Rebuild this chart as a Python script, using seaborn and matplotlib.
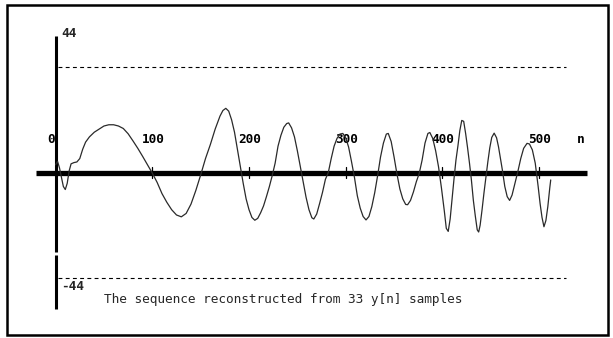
import matplotlib
matplotlib.use("Agg")
import matplotlib.pyplot as plt
from matplotlib.patches import Rectangle
import seaborn as sns
import pandas as pd

# ---- data ----
n_values = [0, 2, 4, 6, 8, 10, 12, 14, 16, 19, 22, 25, 28, 31, 35, 40, 45, 50, 55, 60,
            65, 70, 75, 80, 85, 90, 95, 100, 105, 110, 115, 120, 125, 130, 135, 140, 145,
            150, 155, 160, 165, 170, 173, 176, 179, 182, 185, 188, 191, 194, 197, 200, 203,
            206, 209, 212, 215, 218, 221, 224, 227, 230, 233, 236, 239, 241, 244, 247, 250,
            253, 256, 259, 262, 265, 267, 270, 273, 276, 279, 282, 285, 288, 291, 294, 297,
            300, 303, 306, 309, 312, 315, 318, 321, 324, 327, 330, 333, 336, 339, 342, 344,
            347, 350, 353, 356, 359, 362, 364, 367, 370, 373, 376, 379, 382, 385, 387, 390,
            393, 396, 399, 402, 404, 406, 408, 410, 412, 414, 416, 418, 420, 422, 424, 426,
            428, 430, 432, 434, 436, 437.5, 439, 441, 443, 445, 447, 449, 451, 453.5, 456,
            458, 460, 462, 464.5, 467, 469.5, 472, 475, 478, 481, 484, 487.5, 490, 493, 496,
            499, 501, 503, 505, 507, 509, 511, 512]
y_values = [2.5, 3.6, 1.5, -1.5, -4.5, -5.5, -3.5, 0.5, 2.8, 3.2, 3.4, 4.5, 7.5, 9.8, 11.5,
            13.0, 14.0, 15.0, 15.4, 15.4, 15.0, 14.2, 12.5, 10.2, 7.8, 5.2, 2.5, -0.2, -3.2,
            -6.8, -9.6, -12.0, -13.7, -14.3, -13.2, -10.2, -5.8, -0.8, 4.5, 9.0, 14.0, 18.2,
            20.0, 20.7, 19.8, 17.0, 13.0, 7.5, 2.0, -3.5, -8.5, -12.0, -14.5, -15.4, -14.8,
            -13.0, -10.8, -7.8, -4.6, -1.0, 3.0, 8.5, 12.0, 14.6, 15.8, 16.0, 14.4, 11.5, 7.0,
            2.0, -3.0, -8.0, -12.0, -14.6, -15.0, -13.4, -10.0, -6.4, -2.2, 0.0, 4.5, 8.5,
            11.0, 12.4, 12.6, 11.2, 8.2, 3.5, -1.5, -7.5, -11.5, -14.2, -15.3, -14.2, -11.0,
            -6.5, -1.0, 5.0, 9.5, 12.4, 12.6, 10.0, 5.0, -0.5, -5.3, -8.5, -10.3, -10.4, -9.0,
            -6.3, -3.0, -0.3, 4.0, 9.5, 12.6, 12.9, 11.0, 7.0, 1.8, -5.0, -12.5, -18.0, -19.0,
            -15.0, -8.5, -2.0, 4.0, 8.5, 13.5, 16.8, 16.5, 12.6, 8.0, 3.0, -2.5, -9.0, -14.0,
            -18.5, -19.2, -17.0, -12.0, -6.5, -1.5, 3.5, 8.0, 11.3, 12.7, 11.2, 8.3, 4.5, 0.8,
            -4.5, -7.8, -9.0, -7.3, -3.5, 0.3, 4.5, 7.8, 9.4, 9.2, 7.3, 3.0, -4.5, -10.0,
            -14.5, -17.5, -15.5, -11.0, -5.0, -2.4]
tick_positions = [100, 200, 300, 400, 500]
tick_labels = ["100", "200", "300", "400", "500"]
y_max_label = "44"
y_min_label = "-44"
y_axis_limit = 44
dash_level = 34
caption = "The sequence reconstructed from 33 y[n] samples"

sns.set_style("white")
plt.rcParams['font.family'] = ['DejaVu Sans Mono', 'DejaVu Sans']

fig = plt.figure(figsize=(6.13, 3.38), dpi=100)
ax = fig.add_axes([0, 0, 1, 1])
ax.set_axis_off()
ax.set_xlim(-57.5, 576.4)
ax.set_ylim(-53.39, 55.65)

df = pd.DataFrame({"n": n_values, "y": y_values})

# dashed guide lines
ax.plot([2, 528], [dash_level, dash_level], color="black", lw=0.8,
        linestyle=(0, (3.5, 3.0)))
ax.plot([2, 528], [-dash_level, -dash_level], color="black", lw=0.8,
        linestyle=(0, (3.5, 3.0)))

# axes lines
ax.plot([-20, 550], [0, 0], color="black", lw=3.8, solid_capstyle="butt", zorder=3)
ax.plot([0, 0], [-25.6, y_axis_limit], color="black", lw=2.2, solid_capstyle="butt", zorder=3)
ax.plot([0, 0], [-44, -26.6], color="black", lw=2.2, solid_capstyle="butt", zorder=3)
for t in tick_positions:
    ax.plot([t, t], [-1.9, 1.9], color="black", lw=0.9, zorder=3)

# the signal
sns.lineplot(data=df, x="n", y="y", ax=ax, color="#2a2a2a", linewidth=0.9,
             estimator=None, zorder=4)

# labels
lab = dict(fontsize=9.2, fontweight="bold", color="black", ha="center", va="center")
ax.text(-5, 10.5, "0", **lab)
for t, s in zip(tick_positions, tick_labels):
    ax.text(t + 0.8, 10.5, s, **lab)
ax.text(542.5, 10.5, "n", **lab)
ax.text(6, 45, y_max_label, fontsize=9.2, fontweight="bold", ha="left", va="center")
ax.text(6, -36.8, y_min_label, fontsize=9.2, fontweight="bold", ha="left", va="center")
ax.text(49.6, -41.1, caption, fontsize=9.2, ha="left", va="center")

# outer frame
fig.add_artist(Rectangle((7 / 613, 1 - 335 / 338), 601 / 613, 330 / 338,
                         transform=fig.transFigure, fill=False, lw=1.8,
                         edgecolor="black"))

fig.savefig("out.png", dpi=100)
